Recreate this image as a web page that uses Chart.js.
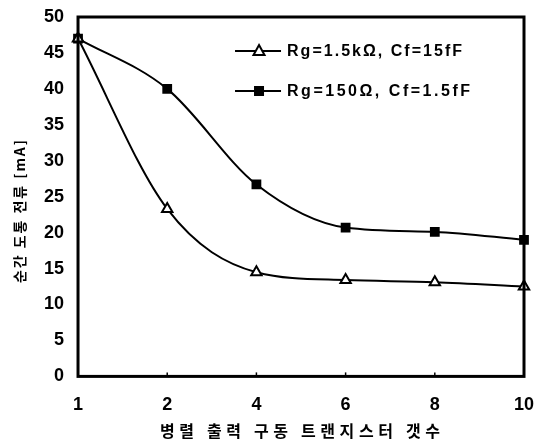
<!DOCTYPE html>
<html>
<head>
<meta charset="utf-8">
<script src="https://cdn.jsdelivr.net/npm/chart.js@4"></script>
<style>
  html, body { margin: 0; padding: 0; background: #fff; }
  #wrap { width: 538px; height: 445px; }
</style>
</head>
<body>
<div id="wrap"><canvas id="chart" width="538" height="445"></canvas></div>
<script>
// Data
const transistorCounts = ['1', '2', '4', '6', '8', '10'];
const seriesNames = ['Rg=1.5kΩ, Cf=15fF', 'Rg=150Ω, Cf=1.5fF'];
const currentHighRg = [47, 23.3, 14.5, 13.4, 13.1, 12.5];
const currentLowRg = [47, 40, 26.7, 20.7, 20.1, 19.0];
const yTicks = [0, 5, 10, 15, 20, 25, 30, 35, 40, 45, 50];
const xTitle = '병렬 출력 구동 트랜지스터 갯수';
const yTitle = '순간 도통 전류 [mA]';

const FONT = "'Liberation Sans', Arial, sans-serif";
const KFONT = "'Noto Sans CJK KR', sans-serif";

// draw text stretched to a target width via letter spacing
function spacedText(ctx, text, x, y, width) {
    ctx.letterSpacing = '0px';
    const w = ctx.measureText(text).width;
    const sp = Math.max(0, (width - w) / (text.length - 1));
    ctx.letterSpacing = sp + 'px';
    ctx.textAlign = 'left';
    ctx.fillText(text, x, y);
    ctx.letterSpacing = '0px';
}

// no extra room for label overhang, the layout padding handles it
function noOverhang(scale) {
    scale.paddingLeft = 0;
    scale.paddingRight = 0;
    scale.paddingTop = 0;
    scale.paddingBottom = 0;
}

// frame, inner ticks, axis titles, in-plot legend
const framePlugin = {
    id: 'frame',
    afterDraw(chart) {
        const { ctx, chartArea: a } = chart;
        ctx.save();
        ctx.strokeStyle = '#000';
        ctx.lineWidth = 3;
        ctx.strokeRect(a.left, a.top, a.right - a.left, a.bottom - a.top);

        // small inward ticks on bottom axis
        const xs = chart.scales.x;
        ctx.lineWidth = 1.5;
        xs.ticks.forEach((t, i) => {
            if (i === 0 || i === xs.ticks.length - 1) return;
            const px = xs.getPixelForTick(i);
            ctx.beginPath();
            ctx.moveTo(px, a.bottom);
            ctx.lineTo(px, a.bottom - 4);
            ctx.stroke();
        });

        // axis titles
        ctx.fillStyle = '#000';
        ctx.textBaseline = 'middle';
        ctx.font = 'bold 16px ' + KFONT;
        spacedText(ctx, xTitle, 160, 431, 280);

        ctx.save();
        ctx.translate(20, 283);
        ctx.rotate(-Math.PI / 2);
        ctx.font = 'bold 14px ' + KFONT;
        spacedText(ctx, yTitle, 0, 0, 143);
        ctx.restore();

        // legend
        const lx = a.left + 157, ly = a.top + 34, gap = 40;
        chart.data.datasets.forEach((ds, i) => {
            const y = ly + i * gap;
            ctx.beginPath();
            ctx.lineWidth = 2;
            ctx.strokeStyle = '#000';
            ctx.moveTo(lx, y);
            ctx.lineTo(lx + 46, y);
            ctx.stroke();
            const mx = lx + 24;
            if (ds.pointStyle === 'triangle') {
                ctx.beginPath();
                ctx.moveTo(mx, y - 6);
                ctx.lineTo(mx + 5.5, y + 4);
                ctx.lineTo(mx - 5.5, y + 4);
                ctx.closePath();
                ctx.fillStyle = '#fff';
                ctx.fill();
                ctx.stroke();
            } else {
                ctx.fillStyle = '#000';
                ctx.fillRect(mx - 5, y - 5, 10, 10);
            }
            ctx.fillStyle = '#000';
            ctx.font = 'bold 16px ' + FONT;
            ctx.textBaseline = 'middle';
            spacedText(ctx, ds.label, lx + 52, y + 1, i === 0 ? 175 : 183);
        });
        ctx.restore();
    }
};

new Chart(document.getElementById('chart'), {
    type: 'line',
    data: {
        labels: transistorCounts,
        datasets: [
            {
                label: seriesNames[0],
                data: currentHighRg,
                borderColor: '#000',
                borderWidth: 2,
                pointStyle: 'triangle',
                pointRadius: 6,
                pointBorderWidth: 2,
                pointBackgroundColor: '#fff',
                pointBorderColor: '#000',
                cubicInterpolationMode: 'monotone'
            },
            {
                label: seriesNames[1],
                data: currentLowRg,
                borderColor: '#000',
                borderWidth: 2,
                pointStyle: 'rect',
                pointRadius: 5.5,
                pointBackgroundColor: '#000',
                pointBorderColor: '#000',
                cubicInterpolationMode: 'monotone'
            }
        ]
    },
    options: {
        responsive: false,
        animation: false,
        layout: { padding: { top: 17, right: 14, bottom: 11, left: 30 } },
        plugins: {
            legend: { display: false },
            tooltip: { enabled: false }
        },
        scales: {
            x: {
                offset: false,
                afterFit: noOverhang,
                grid: { display: false, drawTicks: false },
                border: { display: false },
                ticks: {
                    color: '#000',
                    padding: 18,
                    font: { family: FONT, size: 18, weight: 'bold' }
                }
            },
            y: {
                min: 0,
                max: 50,
                afterFit: noOverhang,
                afterBuildTicks(axis) {
                    axis.ticks = yTicks.map(v => ({ value: v }));
                },
                grid: { display: false, drawTicks: false },
                border: { display: false },
                ticks: {
                    color: '#000',
                    padding: 14,
                    font: { family: FONT, size: 18, weight: 'bold' }
                }
            }
        }
    },
    plugins: [framePlugin]
});
</script>
</body>
</html>
